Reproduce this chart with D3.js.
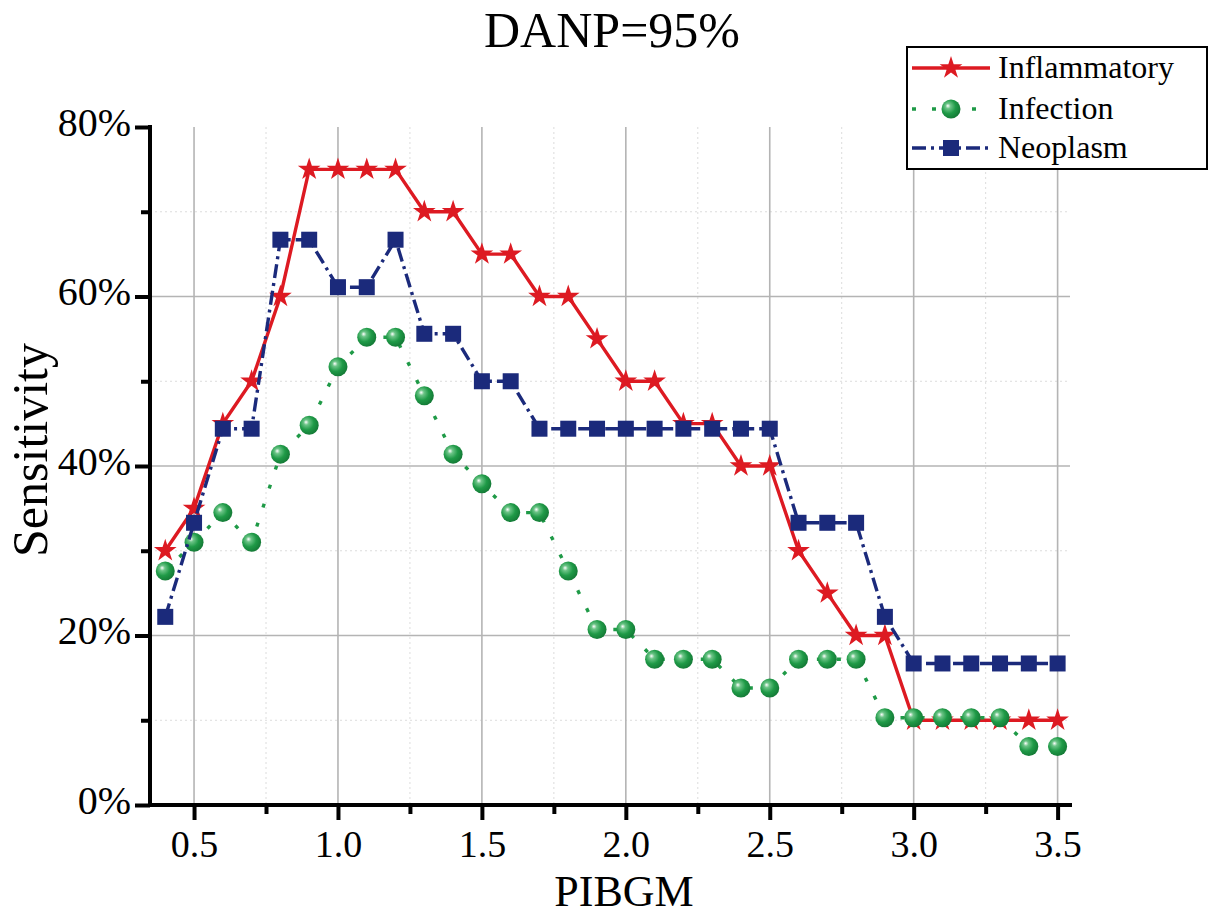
<!DOCTYPE html>
<html>
<head>
<meta charset="utf-8">
<script src="https://cdn.jsdelivr.net/npm/d3@7.9.0/dist/d3.min.js"></script>
<style>
  body { margin: 0; background: #fff; }
  text { font-family: "Liberation Serif", "Times New Roman", serif; fill: #000; }
</style>
</head>
<body>
<svg id="chart" width="1210" height="917"></svg>
<script>
// PIBGM thresholds (x) and sensitivity (%) for each group
const pibgm = [0.4, 0.5, 0.6, 0.7, 0.8, 0.9, 1.0, 1.1, 1.2, 1.3, 1.4, 1.5, 1.6, 1.7, 1.8, 1.9,
               2.0, 2.1, 2.2, 2.3, 2.4, 2.5, 2.6, 2.7, 2.8, 2.9, 3.0, 3.1, 3.2, 3.3, 3.4, 3.5];

const inflammatory = [30, 35, 45, 50, 60, 75, 75, 75, 75, 70, 70, 65, 65, 60, 60, 55,
                      50, 50, 45, 45, 40, 40, 30, 25, 20, 20, 10, 10, 10, 10, 10, 10];

const infection = [27.6, 31.0, 34.5, 31.0, 41.4, 44.8, 51.7, 55.2, 55.2, 48.3, 41.4, 37.9, 34.5, 34.5, 27.6, 20.7,
                   20.7, 17.2, 17.2, 17.2, 13.8, 13.8, 17.2, 17.2, 17.2, 10.3, 10.3, 10.3, 10.3, 10.3, 6.9, 6.9];

const neoplasm = [22.2, 33.3, 44.4, 44.4, 66.7, 66.7, 61.1, 61.1, 66.7, 55.6, 55.6, 50.0, 50.0, 44.4, 44.4, 44.4,
                  44.4, 44.4, 44.4, 44.4, 44.4, 44.4, 33.3, 33.3, 33.3, 22.2, 16.7, 16.7, 16.7, 16.7, 16.7, 16.7];

const xMajor = [0.5, 1.0, 1.5, 2.0, 2.5, 3.0, 3.5];
const xMinor = [0.75, 1.25, 1.75, 2.25, 2.75, 3.25];
const yMajor = [0, 20, 40, 60, 80];
const yMinor = [10, 30, 50, 70];

const svg = d3.select("#chart");

const x = d3.scaleLinear().domain([0.347, 3.55]).range([150, 1072]);
const y = d3.scaleLinear().domain([0, 80]).range([805, 127]);

// sphere gradient for the infection markers
const defs = svg.append("defs");
const grad = defs.append("radialGradient")
  .attr("id", "ball")
  .attr("cx", "40%").attr("cy", "40%").attr("r", "62%")
  .attr("fx", "33%").attr("fy", "33%");
grad.append("stop").attr("offset", "0%").attr("stop-color", "#ffffff");
grad.append("stop").attr("offset", "22%").attr("stop-color", "#6cc487");
grad.append("stop").attr("offset", "60%").attr("stop-color", "#1f9a47");
grad.append("stop").attr("offset", "100%").attr("stop-color", "#147a36");

// --- grid ---
const grid = svg.append("g");
grid.selectAll(".vminor").data(xMinor).enter().append("line")
  .attr("x1", d => x(d)).attr("x2", d => x(d))
  .attr("y1", y(80)).attr("y2", y(0))
  .attr("stroke", "#dcdcdc").attr("stroke-width", 1).attr("stroke-dasharray", "2,3");
grid.selectAll(".hminor").data(yMinor).enter().append("line")
  .attr("x1", 150).attr("x2", 1070)
  .attr("y1", d => y(d)).attr("y2", d => y(d))
  .attr("stroke", "#dcdcdc").attr("stroke-width", 1).attr("stroke-dasharray", "2,3");
grid.selectAll(".vmajor").data(xMajor).enter().append("line")
  .attr("x1", d => x(d)).attr("x2", d => x(d))
  .attr("y1", y(80)).attr("y2", y(0))
  .attr("stroke", "#b4b4b4").attr("stroke-width", 1.6);
grid.selectAll(".hmajor").data(yMajor.filter(d => d > 0 && d < 80)).enter().append("line")
  .attr("x1", 150).attr("x2", 1070)
  .attr("y1", d => y(d)).attr("y2", d => y(d))
  .attr("stroke", "#b4b4b4").attr("stroke-width", 1.6);

// --- series ---
const series = [
  { name: "Inflammatory", values: inflammatory, color: "#dd1a22", dash: null, marker: "star" },
  { name: "Infection", values: infection, color: "#1f9a47", dash: "4,16", marker: "ball" },
  { name: "Neoplasm", values: neoplasm, color: "#1b2a7b", dash: "14,5,3,5", marker: "square" }
];

const line = d3.line().x(d => x(d[0])).y(d => y(d[1]));

function drawMarker(sel, s) {
  if (s.marker === "star") {
    sel.append("path")
      .attr("d", d3.symbol(d3.symbolStar).size(160)())
      .attr("fill", s.color);
  } else if (s.marker === "ball") {
    sel.append("circle").attr("r", 9.5).attr("fill", "url(#ball)");
  } else {
    sel.append("rect")
      .attr("x", -8).attr("y", -8).attr("width", 16).attr("height", 16)
      .attr("fill", s.color);
  }
}

series.forEach(s => {
  const pts = pibgm.map((p, i) => [p, s.values[i]]);
  svg.append("path")
    .datum(pts)
    .attr("fill", "none")
    .attr("stroke", s.color)
    .attr("stroke-width", 3.4)
    .attr("stroke-dasharray", s.dash)
    .attr("d", line);
  svg.append("g").selectAll("g")
    .data(pts).enter().append("g")
    .attr("transform", d => `translate(${x(d[0])},${y(d[1])})`)
    .each(function () { drawMarker(d3.select(this), s); });
});

// --- axes ---
const xAxis = svg.append("g").attr("transform", `translate(0,${y(0)})`);
xAxis.append("g")
  .call(d3.axisBottom(x).tickValues(xMinor).tickSize(9).tickFormat(""))
  .call(g => g.select(".domain").remove());
xAxis.append("g")
  .call(d3.axisBottom(x).tickValues(xMajor).tickSizeOuter(0).tickSize(15).tickPadding(10)
    .tickFormat(d3.format(".1f")))
  .call(g => g.selectAll("text").attr("font-size", 38).attr("font-family", "Liberation Serif"));
xAxis.selectAll("line").attr("stroke", "#000").attr("stroke-width", 4);
xAxis.selectAll(".domain").attr("stroke", "#000").attr("stroke-width", 4)
  .attr("d", `M${148},0H${1072}`);

const yAxis = svg.append("g").attr("transform", `translate(150,0)`);
yAxis.append("g")
  .call(d3.axisLeft(y).tickValues(yMinor).tickSize(9).tickFormat(""))
  .call(g => g.select(".domain").remove());
yAxis.append("g")
  .call(d3.axisLeft(y).tickValues(yMajor).tickSizeOuter(0).tickSize(15).tickPadding(4)
    .tickFormat(d => d + "%"))
  .call(g => g.selectAll("text").attr("font-size", 40).attr("font-family", "Liberation Serif")
    .attr("dy", "0.2em"));
yAxis.selectAll("line").attr("stroke", "#000").attr("stroke-width", 4);
yAxis.selectAll(".domain").attr("stroke", "#000").attr("stroke-width", 4)
  .attr("d", `M0,${125}V${807}`);

// --- titles ---
svg.append("text")
  .attr("x", 612).attr("y", 47)
  .attr("text-anchor", "middle")
  .attr("font-size", 50)
  .text("DANP=95%");

svg.append("text")
  .attr("x", 624).attr("y", 906)
  .attr("text-anchor", "middle")
  .attr("font-size", 44)
  .text("PIBGM");

svg.append("text")
  .attr("transform", "translate(47,450) rotate(-90)")
  .attr("text-anchor", "middle")
  .attr("font-size", 50)
  .text("Sensitivity");

// --- legend ---
const legend = svg.append("g");
legend.append("rect")
  .attr("x", 907).attr("y", 47).attr("width", 300).attr("height", 122)
  .attr("fill", "#fff").attr("stroke", "#000").attr("stroke-width", 2);

const rowY = [68, 109, 148];
series.forEach((s, i) => {
  const row = legend.append("g").attr("transform", `translate(0,${rowY[i]})`);
  row.append("line")
    .attr("x1", 912).attr("x2", 990).attr("y1", 0).attr("y2", 0)
    .attr("stroke", s.color).attr("stroke-width", 3.4)
    .attr("stroke-dasharray", s.dash);
  const m = row.append("g").attr("transform", "translate(951,0)");
  drawMarker(m, s);
  row.append("text")
    .attr("x", 998).attr("y", 0).attr("dy", "0.3em")
    .attr("font-size", 32)
    .text(s.name);
});
</script>
</body>
</html>
